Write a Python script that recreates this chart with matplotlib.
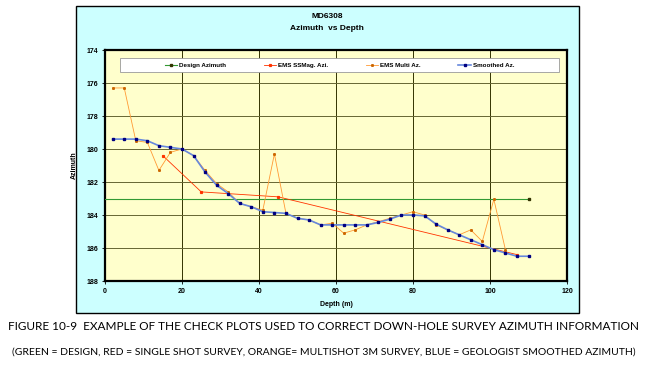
import matplotlib.pyplot as plt
from matplotlib.patches import Rectangle

# Design azimuth
design_depth = [0, 110]
design_az = [183.0, 183.0]

# EMS single shot magnetic azimuth
ss_depth = [15, 25, 45, 107]
ss_az = [180.4, 182.6, 182.9, 186.4]

# EMS multishot azimuth
ms_depth = [2, 5, 8, 11, 14, 17, 20, 23, 26, 29, 32, 35, 38, 41, 44, 47, 50, 53,
            56, 59, 62, 65, 68, 71, 74, 77, 80, 83, 86, 89, 92, 95, 98, 101, 104]
ms_az = [176.3, 176.3, 179.5, 179.6, 181.3, 180.2, 180.0, 180.4, 181.3, 182.1,
         182.6, 183.3, 183.5, 183.7, 180.3, 183.9, 184.2, 184.3, 184.6, 184.5,
         185.1, 184.9, 184.6, 184.4, 184.2, 184.0, 183.8, 184.0, 184.6, 184.9,
         185.2, 184.9, 185.6, 183.05, 186.1]

# Geologist smoothed azimuth
sm_depth = [2, 5, 8, 11, 14, 17, 20, 23, 26, 29, 32, 35, 38, 41, 44, 47, 50, 53,
            56, 59, 62, 65, 68, 71, 74, 77, 80, 83, 86, 89, 92, 95, 98, 101, 104,
            107, 110]
sm_az = [179.4, 179.4, 179.4, 179.5, 179.8, 179.9, 180.0, 180.4, 181.4, 182.2,
         182.7, 183.3, 183.5, 183.8, 183.85, 183.9, 184.2, 184.3, 184.6, 184.6,
         184.6, 184.6, 184.6, 184.45, 184.25, 184.0, 184.0, 184.05, 184.55, 184.9,
         185.2, 185.5, 185.8, 186.1, 186.3, 186.5, 186.5]

xticks = [0, 20, 40, 60, 80, 100, 120]
yticks = [174, 176, 178, 180, 182, 184, 186, 188]

plt.rcParams['font.family'] = ['Liberation Sans', 'DejaVu Sans']

fig = plt.figure(figsize=(6.49, 3.72), dpi=100)
fig.patch.set_facecolor('white')

# cyan chart frame
fig.patches.append(Rectangle((76/649, 1-313/372), (579-76)/649, (313-6)/372,
                             transform=fig.transFigure, facecolor='#CCFFFF',
                             edgecolor='black', linewidth=1.0, zorder=-5))

ax = fig.add_axes([105/649, 1-281/372, (567-105)/649, (281-50)/372])
ax.set_facecolor('#FFFFCC')

ax.plot(design_depth, design_az, color='#339933', linewidth=0.8, marker='s',
        markersize=1.5, markeredgecolor='#333300', markerfacecolor='#333300',
        markevery=[1], label='Design Azimuth', zorder=3)
ax.plot(ss_depth, ss_az, color='#FF3300', linewidth=0.6, marker='s',
        markersize=1.3, label='EMS SSMag. Azi.', zorder=3)
ax.plot(ms_depth, ms_az, color='#FF9933', linewidth=0.6, marker='s',
        markersize=1.1, markerfacecolor='#CC6600', markeredgecolor='#CC6600',
        label='EMS Multi Az.', zorder=3)
ax.plot(sm_depth, sm_az, color='#6688DD', linewidth=1.2, marker='s',
        markersize=1.5, markerfacecolor='#000080', markeredgecolor='#000080',
        label='Smoothed Az.', zorder=4)

ax.set_xlim(0, 120)
ax.set_ylim(188, 174)
ax.set_xticks(xticks)
ax.set_yticks(yticks)
ax.grid(True, axis='x', color='#333300', linewidth=0.7)
ax.grid(True, axis='y', color='#666633', linewidth=0.7)
ax.set_axisbelow(True)
for s in ax.spines.values():
    s.set_linewidth(1.6)
ax.tick_params(labelsize=5, length=2, width=0.6, pad=3)
for t in ax.get_xticklabels() + ax.get_yticklabels():
    t.set_fontweight('bold')

ax.set_xlabel('Depth (m)', fontsize=5, fontweight='bold', labelpad=4)
ax.set_ylabel('Azimuth', fontsize=5, fontweight='bold', labelpad=6)

fig.text(327/649, 1-16/372, 'MD6308', ha='center', va='center',
         fontsize=6, fontweight='bold')
fig.text(327/649, 1-28/372, 'Azimuth  vs Depth', ha='center', va='center',
         fontsize=6, fontweight='bold')

leg = ax.legend(loc='center', bbox_to_anchor=((120-105)/462, 1-(72-50)/231,
                (559-120)/462, (72-58)/231), ncol=4,
                fontsize=4.5, frameon=False, borderpad=0.3, columnspacing=6,
                handlelength=2.0, handletextpad=0.3, borderaxespad=0)
for t in leg.get_texts():
    t.set_fontweight('bold')
# legend box spanning the full width
ax.add_patch(Rectangle(((120-105)/462, 1-(72-50)/231), (559-120)/462, (72-58)/231,
                       transform=ax.transAxes, facecolor='white',
                       edgecolor='#999999', linewidth=0.6, zorder=5))
leg.set_zorder(6)

fig.text(324/649, 1-326/372,
         'FIGURE 10-9  EXAMPLE OF THE CHECK PLOTS USED TO CORRECT DOWN-HOLE SURVEY AZIMUTH INFORMATION',
         ha='center', va='center', fontsize=8.5, family=['Lato', 'DejaVu Sans'])
fig.text(324/649, 1-352/372,
         '(GREEN = DESIGN, RED = SINGLE SHOT SURVEY, ORANGE= MULTISHOT 3M SURVEY, BLUE = GEOLOGIST SMOOTHED AZIMUTH)',
         ha='center', va='center', fontsize=7.5, family=['Lato', 'DejaVu Sans'])

fig.savefig('out.png', dpi=100)
